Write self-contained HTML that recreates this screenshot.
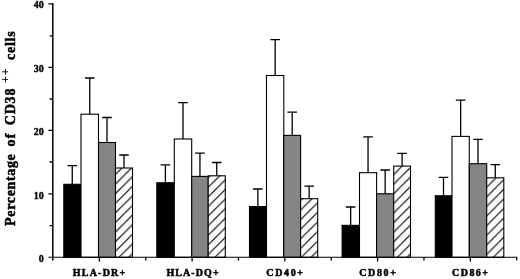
<!DOCTYPE html>
<html><head><meta charset="utf-8"><title>chart</title>
<style>html,body{margin:0;padding:0;background:#fff;}svg{display:block;}text{font-family:"Liberation Serif","DejaVu Serif",serif;font-weight:bold;fill:#000;stroke:#000;stroke-width:0.5px;stroke-linejoin:round;}</style>
</head><body>
<svg width="520" height="279" viewBox="0 0 520 279">
<defs>
<pattern id="hatch" patternUnits="userSpaceOnUse" width="9.6" height="9.6">
<rect width="9.6" height="9.6" fill="#fff"/>
<path d="M-3,-4.70 L-4.70,-3 M-3,4.90 L4.90,-3 M-3,14.50 L14.50,-3 M-3,24.10 L24.10,-3 M-3,33.70 L33.70,-3 " stroke="#000" stroke-width="1.15" fill="none"/>
</pattern>
<filter id="soft" x="-5%" y="-5%" width="110%" height="110%"><feGaussianBlur stdDeviation="0.3"/></filter>
</defs>
<rect width="520" height="279" fill="#fff"/>
<g filter="url(#soft)">
<path d="M72.25,184.30 V165.60 M67.45,165.60 H77.05" stroke="#000" stroke-width="1.3" fill="none"/>
<rect x="63.80" y="184.30" width="17.20" height="73.00" fill="#000" stroke="#000" stroke-width="1.1"/>
<path d="M89.75,114.20 V78.00 M84.95,78.00 H94.55" stroke="#000" stroke-width="1.3" fill="none"/>
<rect x="81.00" y="114.20" width="17.50" height="143.10" fill="#fff" stroke="#000" stroke-width="1.1"/>
<path d="M107.00,142.50 V117.50 M102.20,117.50 H111.80" stroke="#000" stroke-width="1.3" fill="none"/>
<rect x="98.50" y="142.50" width="17.00" height="114.80" fill="#858585" stroke="#000" stroke-width="1.1"/>
<path d="M124.00,168.00 V155.00 M119.20,155.00 H128.80" stroke="#000" stroke-width="1.3" fill="none"/>
<rect x="115.50" y="168.00" width="17.00" height="89.30" fill="url(#hatch)" stroke="#000" stroke-width="1.1"/>
<path d="M165.40,182.75 V164.80 M160.60,164.80 H170.20" stroke="#000" stroke-width="1.3" fill="none"/>
<rect x="156.80" y="182.75" width="17.50" height="74.55" fill="#000" stroke="#000" stroke-width="1.1"/>
<path d="M183.00,139.00 V102.60 M178.20,102.60 H187.80" stroke="#000" stroke-width="1.3" fill="none"/>
<rect x="174.30" y="139.00" width="17.40" height="118.30" fill="#fff" stroke="#000" stroke-width="1.1"/>
<path d="M199.95,176.40 V153.20 M195.15,153.20 H204.75" stroke="#000" stroke-width="1.3" fill="none"/>
<rect x="191.70" y="176.40" width="16.50" height="80.90" fill="#858585" stroke="#000" stroke-width="1.1"/>
<path d="M216.75,175.80 V162.50 M211.95,162.50 H221.55" stroke="#000" stroke-width="1.3" fill="none"/>
<rect x="208.20" y="175.80" width="17.10" height="81.50" fill="url(#hatch)" stroke="#000" stroke-width="1.1"/>
<path d="M257.85,206.55 V189.00 M253.05,189.00 H262.65" stroke="#000" stroke-width="1.3" fill="none"/>
<rect x="249.50" y="206.55" width="17.00" height="50.75" fill="#000" stroke="#000" stroke-width="1.1"/>
<path d="M275.15,75.50 V39.70 M270.35,39.70 H279.95" stroke="#000" stroke-width="1.3" fill="none"/>
<rect x="266.50" y="75.50" width="17.30" height="181.80" fill="#fff" stroke="#000" stroke-width="1.1"/>
<path d="M292.20,135.40 V112.20 M287.40,112.20 H297.00" stroke="#000" stroke-width="1.3" fill="none"/>
<rect x="283.80" y="135.40" width="16.80" height="121.90" fill="#858585" stroke="#000" stroke-width="1.1"/>
<path d="M309.15,198.70 V186.10 M304.35,186.10 H313.95" stroke="#000" stroke-width="1.3" fill="none"/>
<rect x="300.60" y="198.70" width="17.10" height="58.60" fill="url(#hatch)" stroke="#000" stroke-width="1.1"/>
<path d="M350.65,225.35 V207.00 M345.85,207.00 H355.45" stroke="#000" stroke-width="1.3" fill="none"/>
<rect x="342.10" y="225.35" width="17.40" height="31.95" fill="#000" stroke="#000" stroke-width="1.1"/>
<path d="M368.05,172.70 V136.80 M363.25,136.80 H372.85" stroke="#000" stroke-width="1.3" fill="none"/>
<rect x="359.50" y="172.70" width="17.10" height="84.60" fill="#fff" stroke="#000" stroke-width="1.1"/>
<path d="M385.15,193.80 V170.00 M380.35,170.00 H389.95" stroke="#000" stroke-width="1.3" fill="none"/>
<rect x="376.60" y="193.80" width="17.10" height="63.50" fill="#858585" stroke="#000" stroke-width="1.1"/>
<path d="M402.10,166.10 V153.30 M397.30,153.30 H406.90" stroke="#000" stroke-width="1.3" fill="none"/>
<rect x="393.70" y="166.10" width="16.80" height="91.20" fill="url(#hatch)" stroke="#000" stroke-width="1.1"/>
<path d="M443.50,195.75 V177.40 M438.70,177.40 H448.30" stroke="#000" stroke-width="1.3" fill="none"/>
<rect x="435.30" y="195.75" width="16.70" height="61.55" fill="#000" stroke="#000" stroke-width="1.1"/>
<path d="M460.65,136.40 V100.10 M455.85,100.10 H465.45" stroke="#000" stroke-width="1.3" fill="none"/>
<rect x="452.00" y="136.40" width="17.30" height="120.90" fill="#fff" stroke="#000" stroke-width="1.1"/>
<path d="M478.00,163.70 V139.30 M473.20,139.30 H482.80" stroke="#000" stroke-width="1.3" fill="none"/>
<rect x="469.30" y="163.70" width="17.40" height="93.60" fill="#858585" stroke="#000" stroke-width="1.1"/>
<path d="M495.25,177.80 V164.60 M490.45,164.60 H500.05" stroke="#000" stroke-width="1.3" fill="none"/>
<rect x="486.70" y="177.80" width="17.10" height="79.50" fill="url(#hatch)" stroke="#000" stroke-width="1.1"/>
<path d="M52.8,3.3 V260.6" stroke="#000" stroke-width="1.5" fill="none"/>
<path d="M48.4,257.3 H517.3" stroke="#000" stroke-width="1.1" fill="none"/>
<path d="M48.4,3.80 H52.8 M49.6,35.80 H52.8 M48.4,67.30 H52.8 M49.6,99.00 H52.8 M48.4,130.40 H52.8 M49.6,162.00 H52.8 M48.4,193.90 H52.8 M49.6,225.60 H52.8 " stroke="#000" stroke-width="1.3" fill="none"/>
<path d="M99.37,257.3 V261.6 M145.74,257.3 V260.6 M192.11,257.3 V261.6 M238.48,257.3 V260.6 M284.85,257.3 V261.6 M331.22,257.3 V260.6 M377.59,257.3 V261.6 M423.96,257.3 V260.6 M470.33,257.3 V261.6 M516.70,257.3 V260.6 " stroke="#000" stroke-width="1.3" fill="none"/>
<text x="43.8" y="8.4" font-size="10" text-anchor="end" style="stroke-width:0.35px">40</text>
<text x="43.8" y="72.0" font-size="10" text-anchor="end" style="stroke-width:0.35px">30</text>
<text x="43.8" y="135.2" font-size="10" text-anchor="end" style="stroke-width:0.35px">20</text>
<text x="43.8" y="198.7" font-size="10" text-anchor="end" style="stroke-width:0.35px">10</text>
<text x="43.8" y="262.1" font-size="10" text-anchor="end" style="stroke-width:0.35px">0</text>
<text x="72.75" y="275.7" font-size="10" textLength="52.5" lengthAdjust="spacing">HLA-DR+</text>
<text x="166.40" y="275.7" font-size="10" textLength="52.2" lengthAdjust="spacing">HLA-DQ+</text>
<text x="266.35" y="275.7" font-size="10" textLength="36.7" lengthAdjust="spacing">CD40+</text>
<text x="359.25" y="275.7" font-size="10" textLength="36.7" lengthAdjust="spacing">CD80+</text>
<text x="451.95" y="275.7" font-size="10" textLength="36.1" lengthAdjust="spacing">CD86+</text>
<text transform="translate(15.1,225.9) rotate(-90)" font-size="14" textLength="71.7" lengthAdjust="spacing">Percentage</text>
<text transform="translate(15.1,146.5) rotate(-90)" font-size="14" textLength="12.9" lengthAdjust="spacing">of</text>
<text transform="translate(15.1,125.3) rotate(-90)" font-size="14" textLength="36.7" lengthAdjust="spacing">CD38</text>
<text transform="translate(8.6,82.9) rotate(-90)" font-size="12" textLength="14.6" lengthAdjust="spacing" style="stroke-width:0.15px">++</text>
<text transform="translate(15.1,60.0) rotate(-90)" font-size="14" textLength="28.7" lengthAdjust="spacing">cells</text>
</g>
</svg>
</body></html>
